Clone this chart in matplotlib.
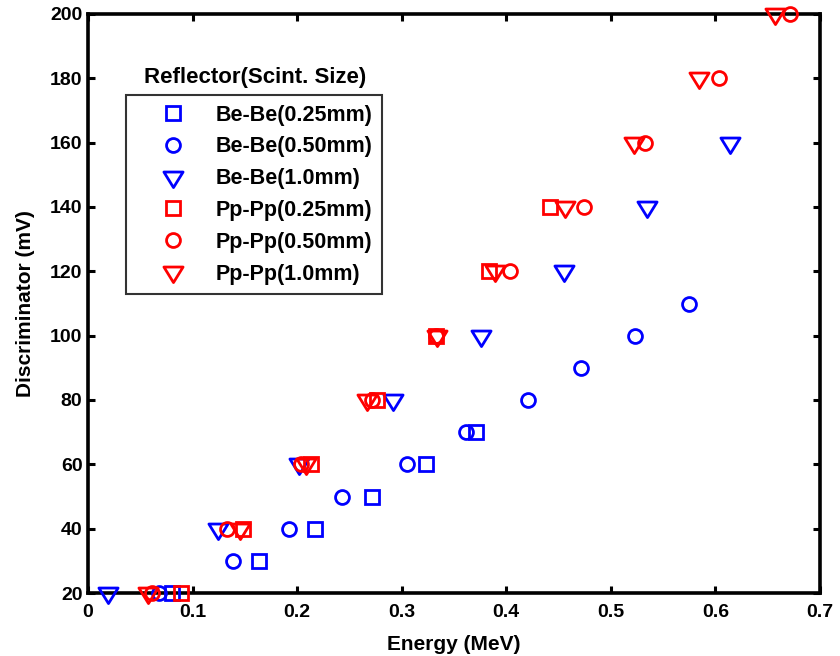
import matplotlib
matplotlib.use("Agg")
import matplotlib.pyplot as plt
from matplotlib.path import Path
import numpy as np

plt.rcParams['font.family'] = ['Liberation Sans', 'DejaVu Sans']
plt.rcParams['font.weight'] = 'bold'

# Data: energy (MeV) vs discriminator (mV)
bebe025_e = [0.080, 0.164, 0.217, 0.272, 0.323, 0.371]
bebe025_d = [20, 30, 40, 50, 60, 70]

bebe050_e = [0.068, 0.139, 0.192, 0.243, 0.305, 0.361, 0.421, 0.471, 0.523, 0.575]
bebe050_d = [20, 30, 40, 50, 60, 70, 80, 90, 100, 110]

bebe10_e = [0.019, 0.124, 0.202, 0.292, 0.376, 0.455, 0.535, 0.614]
bebe10_d = [20, 40, 60, 80, 100, 120, 140, 160]

pppp025_e = [0.089, 0.148, 0.213, 0.276, 0.333, 0.383, 0.442]
pppp025_d = [20, 40, 60, 80, 100, 120, 140]

pppp050_e = [0.061, 0.133, 0.204, 0.272, 0.333, 0.404, 0.474, 0.533, 0.603, 0.671]
pppp050_d = [20, 40, 60, 80, 100, 120, 140, 160, 180, 200]

pppp10_e = [0.057, 0.145, 0.208, 0.267, 0.334, 0.389, 0.456, 0.522, 0.584, 0.657]
pppp10_d = [20, 40, 60, 80, 100, 120, 140, 160, 180, 200]

labels = ['Be-Be(0.25mm)', 'Be-Be(0.50mm)', 'Be-Be(1.0mm)',
          'Pp-Pp(0.25mm)', 'Pp-Pp(0.50mm)', 'Pp-Pp(1.0mm)']
legend_title = 'Reflector(Scint. Size)'
x_ticks = [0, 0.1, 0.2, 0.3, 0.4, 0.5, 0.6, 0.7]
x_ticklabels = ['0', '0.1', '0.2', '0.3', '0.4', '0.5', '0.6', '0.7']
y_ticks = [20, 40, 60, 80, 100, 120, 140, 160, 180, 200]

# MATLAB-like wide downward triangle
tri = Path([(-1, 0.57), (1, 0.57), (0, -1.05), (-1, 0.57)],
           [Path.MOVETO, Path.LINETO, Path.LINETO, Path.CLOSEPOLY])

fig = plt.figure(figsize=(8.4, 6.56), dpi=100)
ax = fig.add_axes([88/840, 1-593/656, (820-88)/840, (593-14)/656])

blue = '#0000ff'
red = '#ff0000'
series = [
    (bebe025_e, bebe025_d, 's', blue, 10),
    (bebe050_e, bebe050_d, 'o', blue, 10),
    (bebe10_e, bebe10_d, tri, blue, 14.5),
    (pppp025_e, pppp025_d, 's', red, 10),
    (pppp050_e, pppp050_d, 'o', red, 10),
    (pppp10_e, pppp10_d, tri, red, 14.5),
]
handles = []
for (e, d, m, c, ms), lab in zip(series, labels):
    h, = ax.plot(e, d, linestyle='none', marker=m, markersize=ms,
                 markerfacecolor='none', markeredgecolor=c,
                 markeredgewidth=2.0, label=lab, clip_on=False, zorder=3)
    handles.append(h)

ax.set_xlim(0, 0.7)
ax.set_ylim(20, 200)
ax.set_xticks(x_ticks)
ax.set_xticklabels(x_ticklabels)
ax.set_yticks(y_ticks)
ax.tick_params(direction='in', length=5, width=2.2, top=True, right=True,
               labelsize=14)
ax.tick_params(axis='x', pad=8)
ax.tick_params(axis='y', pad=4)
for lab in ax.get_xticklabels() + ax.get_yticklabels():
    lab.set_fontweight('bold')
for s in ax.spines.values():
    s.set_linewidth(2.6)

ax.set_xlabel('Energy (MeV)', fontsize=15, fontweight='bold', labelpad=10)
ax.set_ylabel('Discriminator (mV)', fontsize=15, fontweight='bold', labelpad=11)

leg = ax.legend(handles=handles, loc='upper left',
                bbox_to_anchor=(126/840, 1-95/656),
                bbox_transform=fig.transFigure, borderaxespad=0,
                frameon=True, fancybox=False, numpoints=1,
                prop={'size': 15.5, 'weight': 'bold'},
                handlelength=3.45, handletextpad=0.25, labelspacing=0.5,
                borderpad=0.45)
leg.get_frame().set_edgecolor('black')
leg.get_frame().set_linewidth(1.5)
fig.text(255/840, 1-78/656, legend_title, ha='center', va='center',
         fontsize=16, fontweight='bold')

fig.savefig('out.png', dpi=100)
